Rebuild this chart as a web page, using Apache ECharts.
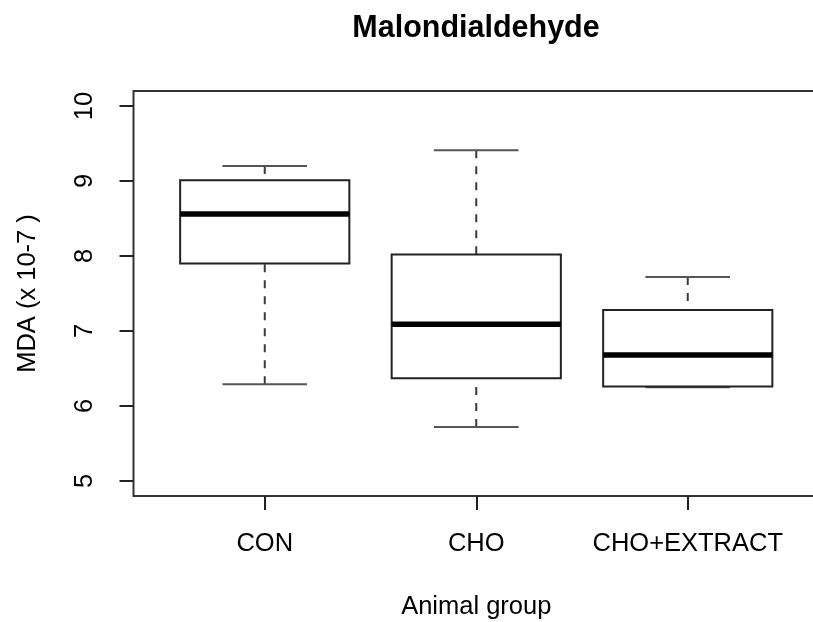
<!DOCTYPE html>
<html>
<head>
<meta charset="utf-8">
<script src="https://cdn.jsdelivr.net/npm/echarts@6/dist/echarts.min.js"></script>
<style>
html,body{margin:0;padding:0;background:#fff;}
#chart{width:813px;height:622px;}
</style>
</head>
<body>
<div id="chart"></div>
<script>
// Data
var categories = ['CON', 'CHO', 'CHO+EXTRACT'];
var minVals = [6.29, 5.72, 6.25];
var q1Vals  = [7.90, 6.37, 6.26];
var medVals = [8.56, 7.09, 6.68];
var q3Vals  = [9.01, 8.02, 7.28];
var maxVals = [9.20, 9.41, 7.72];
var yTicks = [5, 6, 7, 8, 9, 10];

var FONT = 'Liberation Sans, Arial, Helvetica, sans-serif';

var boxData = categories.map(function (c, i) {
  return [i, minVals[i], q1Vals[i], medVals[i], q3Vals[i], maxVals[i]];
});

function renderBox(params, api) {
  var idx = api.value(0);
  var band = api.size([1, 0])[0];
  var boxW = band * 0.8;
  var capW = boxW * 0.5;
  var pMin = api.coord([idx, api.value(1)]);
  var pQ1 = api.coord([idx, api.value(2)]);
  var pMed = api.coord([idx, api.value(3)]);
  var pQ3 = api.coord([idx, api.value(4)]);
  var pMax = api.coord([idx, api.value(5)]);
  var cx = pMed[0];
  var whiskStyle = { stroke: '#3a3a3a', lineWidth: 2, lineDash: [8, 8], fill: null };
  var capStyle = { stroke: '#555', lineWidth: 2.2, fill: null };
  return {
    type: 'group',
    children: [
      { type: 'line', shape: { x1: cx, y1: pMax[1], x2: cx, y2: pQ3[1] }, style: whiskStyle },
      { type: 'line', shape: { x1: cx, y1: pMin[1], x2: cx, y2: pQ1[1] }, style: whiskStyle },
      { type: 'line', shape: { x1: cx - capW / 2, y1: pMax[1], x2: cx + capW / 2, y2: pMax[1] }, style: capStyle },
      { type: 'line', shape: { x1: cx - capW / 2, y1: pMin[1], x2: cx + capW / 2, y2: pMin[1] }, style: capStyle },
      { type: 'rect', shape: { x: cx - boxW / 2, y: pQ3[1], width: boxW, height: pQ1[1] - pQ3[1] },
        style: { fill: '#fff', stroke: '#222', lineWidth: 2 } },
      { type: 'line', shape: { x1: cx - boxW / 2, y1: pMed[1], x2: cx + boxW / 2, y2: pMed[1] },
        style: { stroke: '#000', lineWidth: 5.5 } }
    ]
  };
}

var chart = echarts.init(document.getElementById('chart'), null, { renderer: 'canvas' });
chart.setOption({
  backgroundColor: '#fff',
  animation: false,
  title: {
    text: 'Malondialdehyde',
    left: 476,
    top: 13,
    textAlign: 'center',
    padding: 0,
    textStyle: { fontFamily: FONT, fontSize: 30.5, fontWeight: 'bold', color: '#000' }
  },
  grid: [
    { left: 159, width: 634.5, top: 91, height: 405, containLabel: false, outerBoundsMode: 'none' },
    { left: 133.5, width: 686, top: 91, height: 405, outerBoundsMode: 'none', show: true, borderColor: '#333', borderWidth: 2, backgroundColor: 'transparent', z: 0 }
  ],
  xAxis: [
    {
      type: 'category',
      gridIndex: 0,
      data: categories,
      boundaryGap: true,
      axisLine: { show: false },
      axisTick: { show: true, alignWithLabel: true, length: 14, lineStyle: { color: '#222', width: 2 } },
      axisLabel: { fontFamily: FONT, fontSize: 25.5, color: '#000', margin: 35, interval: 0 },
      splitLine: { show: false },
      name: 'Animal group',
      nameLocation: 'middle',
      nameGap: 98,
      nameTextStyle: { fontFamily: FONT, fontSize: 25.5, color: '#000' }
    },
    { type: 'value', gridIndex: 1, show: false, min: 0, max: 1 }
  ],
  yAxis: [
    {
      type: 'value',
      gridIndex: 0,
      min: 4.8,
      max: 10.2,
      offset: 25.5,
      axisLine: { show: false },
      axisTick: { show: true, length: 14, customValues: yTicks, lineStyle: { color: '#222', width: 2 } },
      axisLabel: { fontFamily: FONT, fontSize: 25.5, color: '#000', rotate: 90, margin: 36, customValues: yTicks, showMinLabel: true, showMaxLabel: true },
      splitLine: { show: false },
      name: 'MDA (x 10-7 )',
      nameLocation: 'middle',
      nameGap: 93,
      nameRotate: 90,
      nameTextStyle: { fontFamily: FONT, fontSize: 25.5, color: '#000' }
    },
    { type: 'value', gridIndex: 1, show: false, min: 0, max: 1 }
  ],
  series: [
    {
      type: 'custom',
      xAxisIndex: 0,
      yAxisIndex: 0,
      renderItem: renderBox,
      encode: { x: 0, y: [1, 2, 3, 4, 5] },
      data: boxData,
      z: 2
    }
  ]
});
</script>
</body>
</html>
